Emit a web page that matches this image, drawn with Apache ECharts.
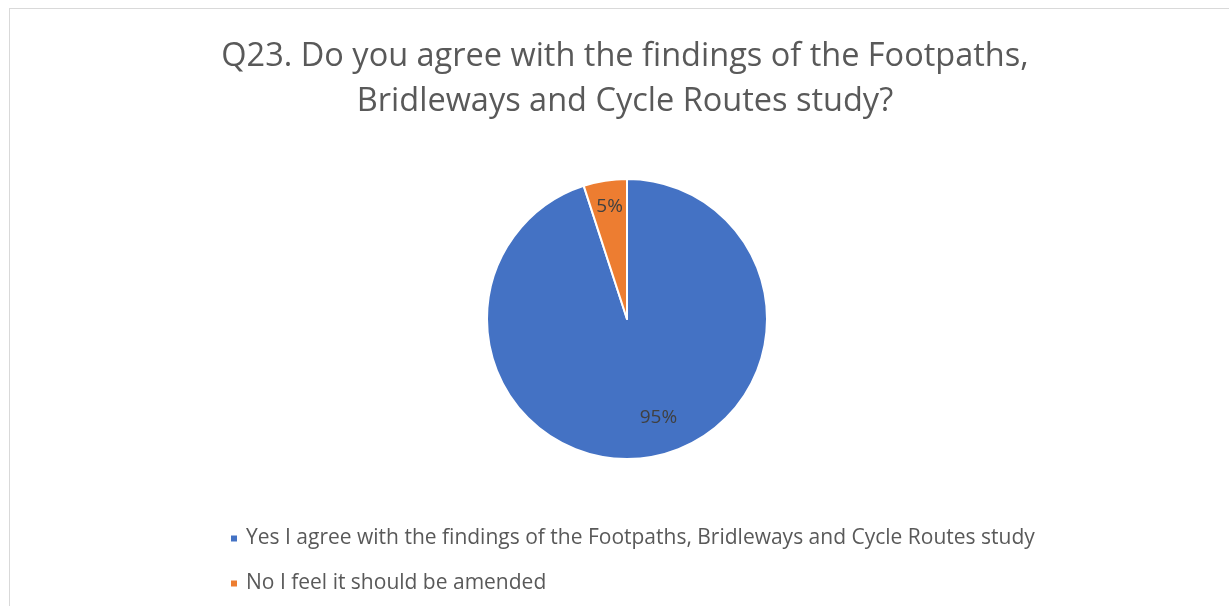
<!DOCTYPE html>
<html>
<head>
<meta charset="utf-8">
<script src="https://cdn.jsdelivr.net/npm/echarts@6/dist/echarts.min.js"></script>
<style>
html,body{margin:0;padding:0;width:1229px;height:606px;overflow:hidden;background:#fff;}
#frame{position:absolute;left:9px;top:8px;width:1232px;height:620px;border:1px solid #d9d9d9;box-sizing:border-box;}
#c{position:absolute;left:0;top:0;width:1230px;height:618px;}
</style>
</head>
<body>
<div id="frame"><div id="c"></div></div>
<script>
const titleText = "Q23. Do you agree with the findings of the Footpaths,\nBridleways and Cycle Routes study?";
const categories = ["Yes I agree with the findings of the Footpaths, Bridleways and Cycle Routes study", "No I feel it should be amended"];
const values = [95, 5];
const colors = ["#4472C4", "#ED7D31"];
const labelOffsets = [[20, 26], [-6, -40]];

const chart = echarts.init(document.getElementById('c'), null, {renderer: 'canvas'});
const FONT = '"Open Sans", "Liberation Sans", sans-serif';
chart.setOption({
  animation: false,
  title: {
    text: titleText,
    left: 'center',
    top: 20,
    textStyle: {fontFamily: FONT, fontSize: 32.5, fontWeight: 'normal', color: '#595959', lineHeight: 45}
  },
  legend: {
    orient: 'vertical',
    left: 214,
    top: 511,
    itemWidth: 8,
    itemHeight: 8,
    itemGap: 18,
    icon: 'rect',
    data: categories,
    textStyle: {fontFamily: FONT, fontSize: 21, color: '#595959', padding: [0, 0, 0, 3], lineHeight: 27}
  },
  series: [{
    type: 'pie',
    center: [617, 310],
    radius: [0, 140],
    startAngle: 90,
    clockwise: true,
    avoidLabelOverlap: false,
    itemStyle: {borderColor: '#fff', borderWidth: 2},
    label: {
      show: true,
      position: 'inside',
      formatter: '{d}%',
      fontFamily: FONT,
      fontSize: 19,
      color: '#404040'
    },
    labelLine: {show: false},
    data: categories.map((n, i) => ({
      name: n,
      value: values[i],
      itemStyle: {color: colors[i]},
      label: {offset: labelOffsets[i]}
    }))
  }]
});
</script>
</body>
</html>
